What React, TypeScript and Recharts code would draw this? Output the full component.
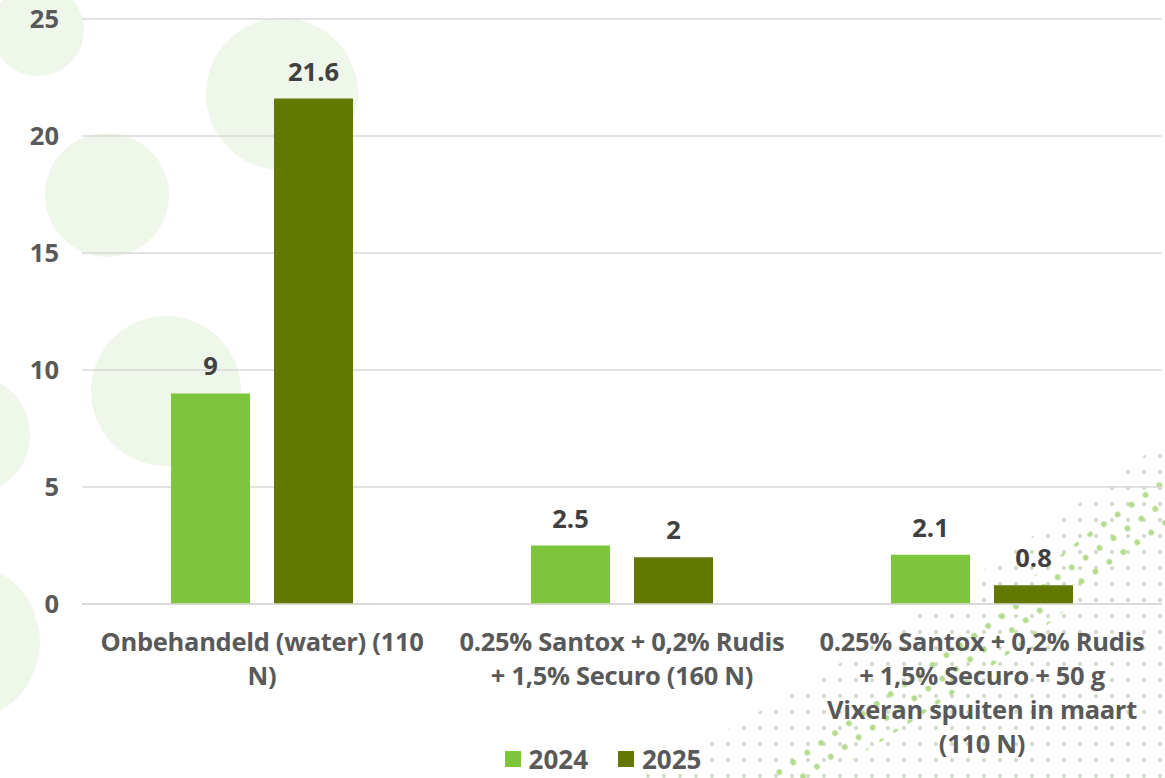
import React from 'react';
import { BarChart, Bar, XAxis, YAxis, CartesianGrid, Legend, LabelList } from 'recharts';

const categories = ['Onbehandeld (water) (110 N)', '0.25% Santox + 0,2% Rudis + 1,5% Securo (160 N)', '0.25% Santox + 0,2% Rudis + 1,5% Securo + 50 g Vixeran spuiten in maart (110 N)'];
// wrapped tick label lines, as they appear under the axis
const categoryLines = [
  ['Onbehandeld (water) (110', 'N)'],
  ['0.25% Santox + 0,2% Rudis', '+ 1,5% Securo (160 N)'],
  ['0.25% Santox + 0,2% Rudis', '+ 1,5% Securo + 50 g', 'Vixeran spuiten in maart', '(110 N)'],
];
const values2024 = [9, 2.5, 2.1];
const values2025 = [21.6, 2, 0.8];
const yTicks = [0, 5, 10, 15, 20, 25];

const data = categories.map((c, i) => ({ name: c, y2024: values2024[i], y2025: values2025[i] }));

const FONT = "'Open Sans', sans-serif";
const TEXT = '#595959';
const FS = 25.5;

const CategoryTick = ({ x, y, payload }) => {
  const lines = categoryLines[payload.index] || [payload.value];
  return (
    <text x={x} y={y} textAnchor="middle" fill={TEXT} fontFamily={FONT} fontWeight={700} fontSize={FS} letterSpacing={-0.3}>
      {lines.map((l, i) => (
        <tspan key={i} x={x} dy={i === 0 ? 39 : 34}>{l}</tspan>
      ))}
    </text>
  );
};

const LegendContent = ({ payload }) => (
  <div style={{ display: 'flex', justifyContent: 'center', alignItems: 'center', height: 26 }}>
    {(payload || []).map((p) => (
      <div key={p.value} style={{ display: 'flex', alignItems: 'center', margin: '0 15px' }}>
        <span style={{ width: 16, height: 16, background: p.color, display: 'inline-block', marginRight: 8 }} />
        <span style={{ color: TEXT, fontFamily: FONT, fontWeight: 700, fontSize: 26, lineHeight: '26px' }}>{p.value}</span>
      </div>
    ))}
  </div>
);

// background decoration
const circles = [
  { cx: 38, cy: 30, r: 46 },
  { cx: 107, cy: 195, r: 62 },
  { cx: 282, cy: 94, r: 76 },
  { cx: 166, cy: 391, r: 75 },
  { cx: -30, cy: 435, r: 60 },
  { cx: -40, cy: 642, r: 80 },
];

export default function App() {
  return (
    <div style={{ position: 'absolute', left: 0, top: 0, width: 1165, height: 778, background: '#fff', overflow: 'hidden' }}>
      <svg width={1165} height={778} style={{ position: 'absolute', left: 0, top: 0 }}>
        <defs>
          <pattern id="dotsFaint" width="16" height="16" patternUnits="userSpaceOnUse">
            <circle cx="8" cy="8" r="2" fill="#cddbc1" />
          </pattern>
          <pattern id="dotsBright" width="17" height="17" patternUnits="userSpaceOnUse" patternTransform="rotate(-35)">
            <circle cx="8.5" cy="8.5" r="2.9" fill="#b5dc8e" />
          </pattern>
        </defs>
        {circles.map((c, i) => (
          <circle key={i} cx={c.cx} cy={c.cy} r={c.r} fill="#eff6ea" />
        ))}
        <path d="M 640 778 Q 900 640 1165 440 L 1165 778 Z" fill="url(#dotsFaint)" />
        <path d="M 750 778 Q 950 650 1165 470 L 1165 530 Q 975 690 820 778 Z" fill="url(#dotsBright)" />
      </svg>
      <div style={{ position: 'absolute', left: 0, top: 0 }}>
        <BarChart
          width={1165}
          height={778}
          data={data}
          margin={{ top: 19, right: 3, bottom: 0, left: 0 }}
          barSize={79}
          barGap={24}
        >
          <CartesianGrid vertical={false} stroke="#d9d9d9" strokeWidth={1.5} />
          <YAxis
            domain={[0, 25]}
            ticks={yTicks}
            width={82}
            axisLine={false}
            tickLine={false}
            tickMargin={17}
            tick={{ fill: TEXT, fontFamily: FONT, fontWeight: 700, fontSize: FS }}
          />
          <XAxis
            dataKey="name"
            axisLine={{ stroke: '#d9d9d9', strokeWidth: 1.5 }}
            tickLine={false}
            interval={0}
            height={148}
            tick={<CategoryTick />}
          />
          <Legend
            verticalAlign="bottom"
            height={26}
            content={<LegendContent />}
            wrapperStyle={{ left: 22, bottom: 6 }}
          />
          <Bar dataKey="y2024" name="2024" fill="#7dc63b" isAnimationActive={false}>
            <LabelList dataKey="y2024" position="top" offset={18} fill="#404040" fontFamily={FONT} fontWeight={700} fontSize={FS} />
          </Bar>
          <Bar dataKey="y2025" name="2025" fill="#627800" isAnimationActive={false}>
            <LabelList dataKey="y2025" position="top" offset={18} fill="#404040" fontFamily={FONT} fontWeight={700} fontSize={FS} />
          </Bar>
        </BarChart>
      </div>
    </div>
  );
}
